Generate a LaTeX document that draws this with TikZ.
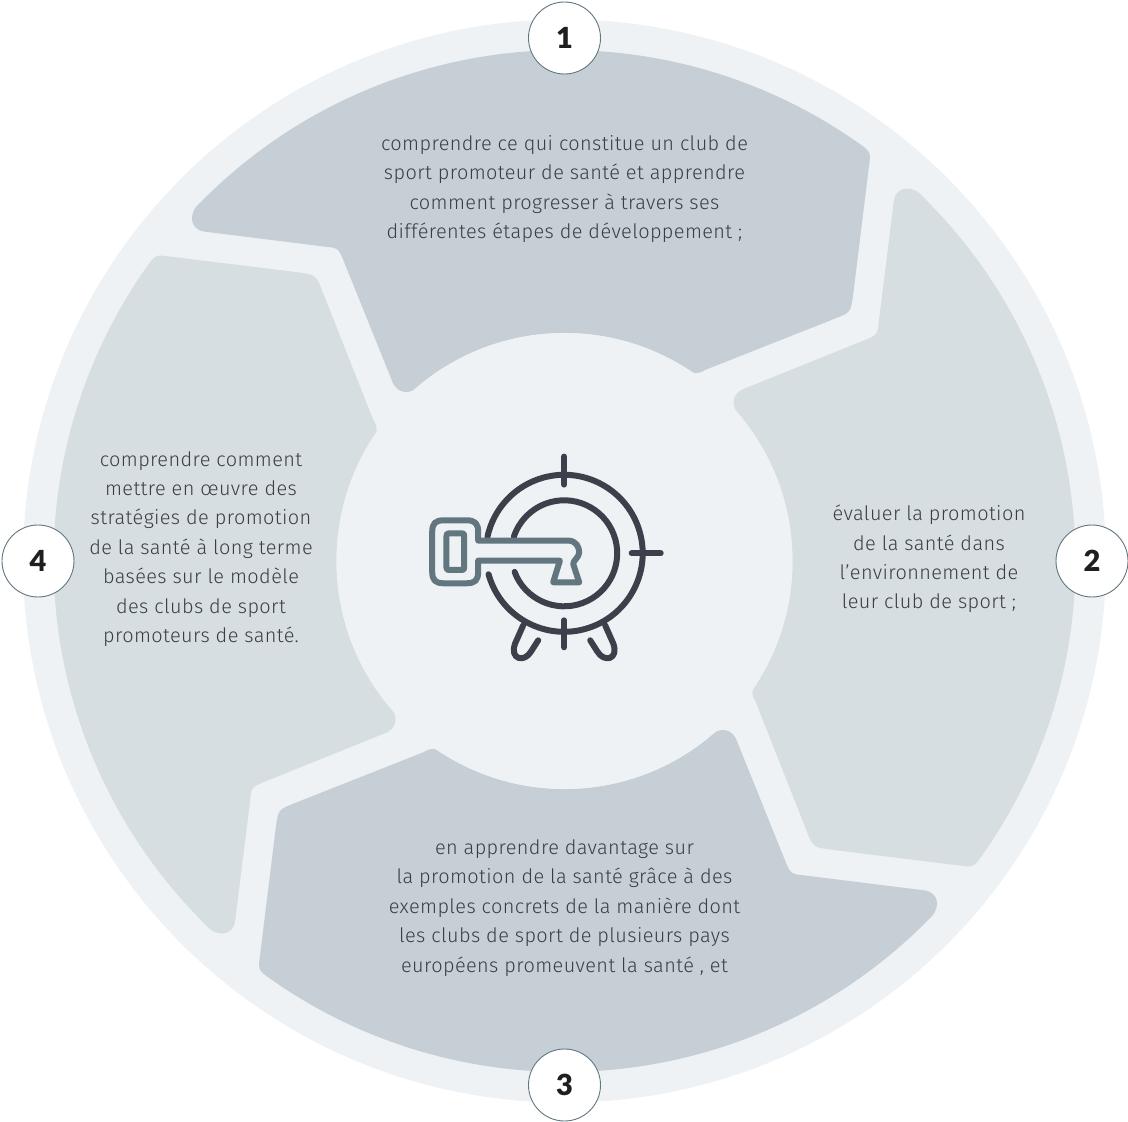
\documentclass[tikz,border=0pt]{standalone}
\usepackage{fontspec}
\setmainfont{Fira Sans Light}[LetterSpace=2.0,Ligatures=NoCommon]
\newfontfamily\numfont{Lato Black}
\definecolor{ringc}{HTML}{EEF2F5}
\definecolor{darkp}{HTML}{C7CFD6}
\definecolor{lightp}{HTML}{D6DEE1}
\definecolor{txtc}{HTML}{3A3D45}
\definecolor{iconc}{HTML}{3C404B}
\definecolor{keyc}{HTML}{62767F}
\newcommand{\petalpath}{
  (135.4:511) .. controls (-377,348) and (-375,331) .. (-359.5,329.3)
  -- (-240,314.4) .. controls (-226,313) .. (-220,298)
  -- (-172.8,181) .. controls (-168,166) and (-153,166) .. (129.5:228)
  arc[start angle=129.5,end angle=57,radius=228pt]
  .. controls (128,186.7) and (134,186.7) .. (140.5,191)
  -- (270,242.2) .. controls (286,248.5) .. (288.5,265)
  -- (304.4,394) .. controls (306.4,409) .. (54.8:511)
  arc[start angle=54.8,end angle=135.4,radius=511pt] -- cycle}
\tikzset{
  petalone/.style={fill=darkp},
  petaltwo/.style={fill=lightp},
  badge/.style={circle,draw=keyc,line width=0.9pt,fill=white,minimum size=72pt,inner sep=0pt,font=\numfont\fontsize{29}{29}\selectfont,text=black!88},
  body/.style={align=center,text=txtc,inner sep=0pt,font=\fontsize{19.9}{29.4}\selectfont},
  iconline/.style={draw=iconc,line width=6pt,line cap=round,line join=round},
  keyline/.style={draw=keyc,line width=6pt,line cap=round,line join=round}
}
\begin{document}
\begin{tikzpicture}[x=1pt,y=1pt]
\useasboundingbox[fill=white] (-564.5,-561) rectangle (563.5,561);
\fill[ringc] (0,0) circle (541.5pt);
\fill[petalone] \petalpath;
\begin{scope}[rotate=-90]\fill[petaltwo] \petalpath;\end{scope}
\begin{scope}[rotate=180]\fill[petalone] \petalpath;\end{scope}
\begin{scope}[rotate=90]\fill[petaltwo] \petalpath;\end{scope}
\fill[ringc] (0,0) circle (228pt);
\node[badge] (b1) at (0,523) {1};
\node[badge] (b2) at (527.5,0) {2};
\node[badge] (b3) at (0,-524) {3};
\node[badge] (b4) at (-526.5,0) {4};
\node[body] (t1) at (0,372) {comprendre ce qui constitue un club de\\sport promoteur de santé et apprendre\\comment progresser à travers ses\\différentes étapes de développement ;};
\node[body] (t2) at (364.5,2) {évaluer la promotion\\de la santé dans\\l’environnement de\\leur club de sport ;};
\node[body] (t3) at (0,-347) {en apprendre davantage sur\\la promotion de la santé grâce à des\\exemples concrets de la manière dont\\les clubs de sport de plusieurs pays\\européens promeuvent la santé , et};
\node[body] (t4) at (-363.5,12) {comprendre comment\\mettre en œuvre des\\stratégies de promotion\\de la santé à long terme\\basées sur le modèle\\des clubs de sport\\promoteurs de santé.};
\begin{scope}[shift={(-0.3,7.7)}]
 \draw[iconline] (195.5:78.5) arc[start angle=195.5,end angle=528,radius=78.5pt];
 \draw[iconline] (200.6:53) arc[start angle=200.6,end angle=521.7,radius=53pt];
 \draw[iconline] (0,96.7) -- (0,68.7);
 \draw[iconline] (0,-67) -- (0,-94);
 \draw[iconline] (67.5,0) -- (96.5,0);
 \draw[iconline] (-41,-72) -- (-49,-90) .. controls (-55,-106) and (-40,-110) .. (-33,-98) -- (-26,-87);
 \draw[iconline] (41,-72) -- (49,-90) .. controls (55,-106) and (40,-110) .. (33,-98) -- (26,-87);
 % key
 \draw[keyline] (-86,12.7) -- (4,12.7) .. controls (12,12.7) and (15,6) .. (15,1)
   .. controls (15,-4) and (9,-7) .. (9,-10.7) -- (15,-29) -- (-11,-29) -- (-4.3,-7.3) -- (-86,-7.3)
   -- (-86,-18) .. controls (-86,-27) and (-89,-30) .. (-98,-30) -- (-120,-30)
   .. controls (-129,-30) and (-132,-27) .. (-132,-18) -- (-132,21)
   .. controls (-132,30) and (-129,33) .. (-120,33) -- (-98,33)
   .. controls (-89,33) and (-86,30) .. (-86,21) -- cycle;
 \draw[keyline] (-115,20) -- (-102.5,20) .. controls (-100.5,20) and (-100,19.5) .. (-100,17.5) -- (-100,-14.2) .. controls (-100,-16.2) and (-100.5,-16.7) .. (-102.5,-16.7) -- (-115,-16.7) .. controls (-117,-16.7) and (-117.7,-16.2) .. (-117.7,-14.2) -- (-117.7,17.5) .. controls (-117.7,19.5) and (-117,20) .. (-115,20) -- cycle;
\end{scope}
\end{tikzpicture}
\end{document}
